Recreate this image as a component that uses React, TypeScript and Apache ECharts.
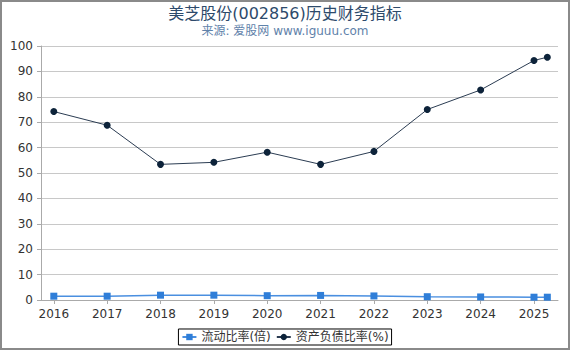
import React, { useEffect, useRef } from "react";
import * as echarts from "echarts";

const years = [2016, 2017, 2018, 2019, 2020, 2021, 2022, 2023, 2024, 2025, 2025.25];
const tickYears = [2016, 2017, 2018, 2019, 2020, 2021, 2022, 2023, 2024, 2025];
const currentRatio = [1.5, 1.5, 1.9, 1.9, 1.7, 1.8, 1.6, 1.3, 1.2, 1.1, 1.1];
const debtRatio = [74.2, 68.8, 53.4, 54.2, 58.2, 53.4, 58.5, 75.0, 82.7, 94.3, 95.6];
const titleText = "美芝股份(002856)历史财务指标";
const subText = "来源: 爱股网 www.iguuu.com";
const seriesNames = ["流动比率(倍)", "资产负债比率(%)"];

export default function App() {
  const ref = useRef<HTMLDivElement>(null);
  useEffect(() => {
    if (!ref.current) return;
    const chart = echarts.init(ref.current, undefined, { renderer: "svg" });
    const font = "'DejaVu Sans', 'Noto Sans CJK SC', sans-serif";
    chart.setOption({
      animation: false,
      textStyle: { fontFamily: font },
      title: {
        text: titleText,
        subtext: subText,
        left: "center",
        top: 0,
        itemGap: 4,
        textStyle: { fontSize: 16, fontWeight: "normal", color: "#2d4a6b", fontFamily: font },
        subtextStyle: { fontSize: 12, color: "#5f82aa", fontFamily: font },
      },
      grid: { left: 41, right: 12, top: 46, bottom: 50, containLabel: false },
      legend: {
        bottom: 5,
        left: "center",
        borderColor: "#000",
        borderWidth: 1,
        padding: [2, 3],
        itemGap: 5,
        itemWidth: 14,
        itemHeight: 8,
        textStyle: { fontSize: 12, color: "#333", fontFamily: font },
        data: seriesNames,
      },
      xAxis: {
        type: "value",
        min: 2015.76,
        max: 2025.45,
        axisLine: { show: true, lineStyle: { color: "#aaa" } },
        axisTick: { show: true, length: 4, customValues: tickYears, lineStyle: { color: "#aaa" } },
        axisLabel: {
          customValues: tickYears,
          color: "#333",
          fontSize: 12,
          margin: 8,
          formatter: (v: number) => String(Math.round(v)),
        },
        splitLine: { show: false },
      },
      yAxis: {
        type: "value",
        min: 0,
        max: 100,
        interval: 10,
        axisLine: { show: true, lineStyle: { color: "#aaa" } },
        axisTick: { show: true, length: 4, lineStyle: { color: "#aaa" } },
        axisLabel: { color: "#333", fontSize: 12, margin: 8 },
        splitLine: { lineStyle: { color: "#c8c8c8" } },
      },
      series: [
        {
          name: seriesNames[0],
          type: "line",
          data: years.map((y, i) => [y, currentRatio[i]]),
          symbol: "rect",
          symbolSize: 7,
          itemStyle: { color: "#2f7ed8" },
          lineStyle: { color: "#4a8fe0", width: 1.5 },
        },
        {
          name: seriesNames[1],
          type: "line",
          data: years.map((y, i) => [y, debtRatio[i]]),
          symbol: "circle",
          symbolSize: 7,
          itemStyle: { color: "#0d233a" },
          lineStyle: { color: "#2b3c52", width: 1 },
        },
      ],
    });
    return () => chart.dispose();
  }, []);
  return (
    <div
      style={{
        position: "fixed",
        left: 0,
        top: 0,
        width: 570,
        height: 350,
        boxSizing: "border-box",
        border: "2px solid #8a8a8a",
        background: "#fff",
      }}
    >
      <div ref={ref} style={{ position: "absolute", left: -2, top: -2, width: 570, height: 350 }} />
    </div>
  );
}
